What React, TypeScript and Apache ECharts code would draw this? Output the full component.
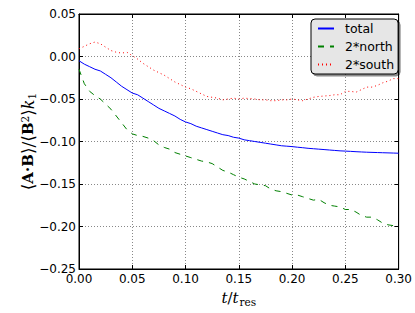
import React, { useEffect, useRef } from "react";
import * as echarts from "echarts";

const t = [
  0, 0.005, 0.01, 0.015, 0.02, 0.025, 0.03, 0.035, 0.04, 0.045,
  0.05, 0.055, 0.06, 0.065, 0.07, 0.075, 0.08, 0.085, 0.09, 0.095,
  0.1, 0.105, 0.11, 0.115, 0.12, 0.125, 0.13, 0.135, 0.14, 0.145,
  0.15, 0.155, 0.16, 0.165, 0.17, 0.175, 0.18, 0.185, 0.19, 0.195,
  0.2, 0.205, 0.21, 0.215, 0.22, 0.225, 0.23, 0.235, 0.24, 0.245,
  0.25, 0.255, 0.26, 0.265, 0.27, 0.275, 0.28, 0.285, 0.29, 0.295, 0.3,
];

const total = [
  -0.005, -0.009, -0.012, -0.015, -0.017, -0.021, -0.025, -0.03, -0.035, -0.039,
  -0.043, -0.045, -0.049, -0.053, -0.057, -0.061, -0.064, -0.067, -0.07, -0.074,
  -0.077, -0.079, -0.082, -0.084, -0.086, -0.088, -0.09, -0.092, -0.093, -0.095,
  -0.096, -0.098, -0.099, -0.1, -0.101, -0.102, -0.103, -0.104, -0.105, -0.1055,
  -0.106, -0.1067, -0.1073, -0.108, -0.1085, -0.109, -0.1095, -0.11, -0.1105, -0.111,
  -0.1113, -0.1116, -0.112, -0.1123, -0.1126, -0.1128, -0.113, -0.1132, -0.1134, -0.1136, -0.1138,
];

const north2 = [
  -0.015, -0.032, -0.041, -0.046, -0.05, -0.056, -0.062, -0.07, -0.078, -0.086,
  -0.091, -0.093, -0.094, -0.096, -0.099, -0.104, -0.107, -0.109, -0.113, -0.115,
  -0.117, -0.119, -0.121, -0.123, -0.124, -0.126, -0.13, -0.134, -0.136, -0.139,
  -0.142, -0.144, -0.147, -0.15, -0.151, -0.152, -0.156, -0.158, -0.159, -0.161,
  -0.163, -0.163, -0.165, -0.167, -0.169, -0.168, -0.172, -0.175, -0.176, -0.177,
  -0.18, -0.18, -0.183, -0.187, -0.189, -0.189, -0.192, -0.196, -0.198, -0.199, -0.202,
];

const south2 = [
  0.009, 0.012, 0.015, 0.017, 0.015, 0.011, 0.007, 0.005, 0.004, 0.005,
  0.001, -0.003, -0.008, -0.012, -0.016, -0.019, -0.022, -0.026, -0.03, -0.033,
  -0.036, -0.038, -0.041, -0.044, -0.047, -0.048, -0.049, -0.051, -0.05, -0.049,
  -0.05, -0.049, -0.0495, -0.05, -0.051, -0.051, -0.052, -0.052, -0.051, -0.051,
  -0.05, -0.051, -0.052, -0.05, -0.048, -0.047, -0.0465, -0.046, -0.045, -0.045,
  -0.041, -0.041, -0.042, -0.039, -0.036, -0.036, -0.034, -0.031, -0.029, -0.026, -0.026,
];

const seriesNames = ["total", "2*north", "2*south"];

const fmt = (v: number) => {
  const s = Math.abs(v).toFixed(2);
  return v < -1e-9 ? "\u2212" + s : s;
};

const pairs = (ys: number[]) => t.map((x, i) => [x, ys[i]]);

export default function App() {
  const ref = useRef<HTMLDivElement>(null);
  useEffect(() => {
    if (!ref.current) return;
    const chart = echarts.init(ref.current, null, { renderer: "svg" });
    const tickFont = { fontFamily: "DejaVu Sans", fontSize: 12, color: "#000" };
    const gridLine = { show: true, lineStyle: { color: "#888", type: [1, 2], width: 1 } };
    const frameLine = { show: true, onZero: false, lineStyle: { color: "#000", width: 1 } };
    const tick = { show: true, inside: true, length: 4, lineStyle: { color: "#000" } };
    chart.setOption({
      animation: false,
      backgroundColor: "#fff",
      grid: { left: 79, top: 14, right: 15, bottom: 44, show: true, borderColor: "#000", borderWidth: 1, backgroundColor: "#fff" },
      legend: {
        orient: "vertical",
        left: 311,
        top: 19,
        data: seriesNames,
        backgroundColor: "#e6e6e6",
        borderColor: "#000",
        borderWidth: 1,
        borderRadius: 4,
        shadowColor: "rgba(0,0,0,0.45)",
        shadowOffsetX: 2,
        shadowOffsetY: 2,
        shadowBlur: 0,
        padding: [3, 4, 3, 6],
        itemWidth: 16,
        itemHeight: 12,
        itemGap: 5,
        itemStyle: { opacity: 0 },
        textStyle: { fontFamily: "DejaVu Sans", fontSize: 12.5, color: "#000", padding: [0, 0, 0, 6] },
      },
      xAxis: [
        {
          type: "value",
          min: 0,
          max: 0.3,
          interval: 0.05,
          axisLine: frameLine,
          axisTick: tick,
          axisLabel: { ...tickFont, margin: 4, formatter: fmt },
          splitLine: gridLine,
          name: "{i|t}{n|/}{i|t}{sub|res}",
          nameLocation: "middle",
          nameGap: 19,
          nameTextStyle: {
            rich: {
              i: { fontFamily: "DejaVu Serif", fontStyle: "italic", fontSize: 15, color: "#000" },
              n: { fontFamily: "DejaVu Serif", fontSize: 15, color: "#000" },
              sub: { fontFamily: "DejaVu Serif", fontSize: 10.5, color: "#000", padding: [8, 0, 0, 1] },
            },
          },
        },
        {
          type: "value",
          position: "top",
          min: 0,
          max: 0.3,
          interval: 0.05,
          axisLine: frameLine,
          axisTick: tick,
          axisLabel: { show: false },
          splitLine: { show: false },
        },
      ],
      yAxis: [
        {
          type: "value",
          min: -0.25,
          max: 0.05,
          interval: 0.05,
          axisLine: frameLine,
          axisTick: tick,
          axisLabel: { ...tickFont, margin: 3, formatter: fmt },
          splitLine: gridLine,
          name: "{b|\u27E8}{bb|A}{m|\u00B7}{bb|B}{b|\u27E9/\u27E8}{bb|B}{sup|2}{b|\u27E9}{i|k}{sub|1}",
          nameLocation: "middle",
          nameRotate: 90,
          nameGap: 42,
          nameMoveOverlap: false,
          nameTextStyle: {
            rich: {
              b: { fontFamily: "DejaVu Serif", fontSize: 17, color: "#000" },
              bb: { fontFamily: "DejaVu Serif", fontWeight: "bold", fontSize: 15, color: "#000" },
              m: { fontFamily: "DejaVu Serif", fontWeight: "bold", fontSize: 15, color: "#000" },
              sup: { fontFamily: "DejaVu Serif", fontSize: 10.5, color: "#000", padding: [0, 0, 7, 0] },
              i: { fontFamily: "DejaVu Serif", fontStyle: "italic", fontSize: 16, color: "#000" },
              sub: { fontFamily: "DejaVu Serif", fontSize: 10.5, color: "#000", padding: [7, 0, 0, 0] },
            },
          },
        },
        {
          type: "value",
          position: "right",
          min: -0.25,
          max: 0.05,
          interval: 0.05,
          axisLine: frameLine,
          axisTick: tick,
          axisLabel: { show: false },
          splitLine: { show: false },
        },
      ],
      series: [
        {
          name: seriesNames[0],
          type: "line",
          data: pairs(total),
          symbol: "none",
          lineStyle: { color: "#0000ff", width: 1 },
          itemStyle: { color: "#0000ff" },
        },
        {
          name: seriesNames[1],
          type: "line",
          data: pairs(north2),
          symbol: "none",
          lineStyle: { color: "#008000", width: 1, type: [6, 6] },
          itemStyle: { color: "#008000" },
        },
        {
          name: seriesNames[2],
          type: "line",
          data: pairs(south2),
          symbol: "none",
          lineStyle: { color: "#ff0000", width: 1, type: [1, 3] },
          itemStyle: { color: "#ff0000" },
        },
      ],
    });
    return () => chart.dispose();
  }, []);
  return (
    <div
      ref={ref}
      style={{ position: "fixed", left: 0, top: 0, width: 415, height: 313 }}
    />
  );
}
